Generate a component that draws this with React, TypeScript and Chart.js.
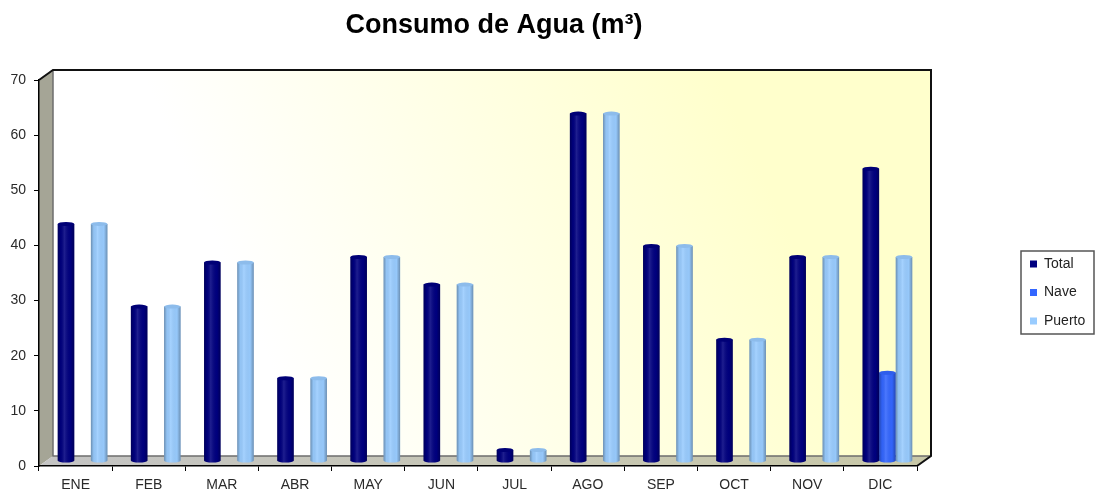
import React, { useEffect, useRef } from "react";
import { Chart, registerables } from "chart.js";

Chart.register(...registerables);

const categories = ["ENE", "FEB", "MAR", "ABR", "MAY", "JUN", "JUL", "AGO", "SEP", "OCT", "NOV", "DIC"];
const total = [43, 28, 36, 15, 37, 32, 2, 63, 39, 22, 37, 53];
const nave = [0, 0, 0, 0, 0, 0, 0, 0, 0, 0, 0, 16];
const puerto = [43, 28, 36, 15, 37, 32, 2, 63, 39, 22, 37, 37];
const seriesNames = ["Total", "Nave", "Puerto"];
const seriesColors = ["#000080", "#3366FF", "#99CCFF"];
const FONT = "'Liberation Sans', Arial, sans-serif";
const DEPTH_X = 14;
const DEPTH_Y = 10;

const frame3d = {
  id: "frame3d",
  beforeDraw(chart: any) {
    const { ctx, chartArea: a } = chart;
    const { left: l, right: r, top: t, bottom: b } = a;
    const dx = DEPTH_X;
    const dy = DEPTH_Y;
    ctx.save();
    const wall = ctx.createLinearGradient(l + dx, b, r + dx, t);
    wall.addColorStop(0, "#FFFFFF");
    wall.addColorStop(0.25, "#FFFFFF");
    wall.addColorStop(0.8, "#FFFFCC");
    wall.addColorStop(1, "#FFFFCC");
    ctx.fillStyle = wall;
    ctx.fillRect(l + dx, t - dy, r - l, b - t);

    ctx.fillStyle = "#A5A596";
    ctx.beginPath();
    ctx.moveTo(l, t);
    ctx.lineTo(l + dx, t - dy);
    ctx.lineTo(l + dx, b - dy);
    ctx.lineTo(l, b);
    ctx.closePath();
    ctx.fill();

    const floor = ctx.createLinearGradient(l, 0, r, 0);
    floor.addColorStop(0, "#C4C4C4");
    floor.addColorStop(1, "#C8C8A8");
    ctx.fillStyle = floor;
    ctx.beginPath();
    ctx.moveTo(l, b);
    ctx.lineTo(l + dx, b - dy);
    ctx.lineTo(r + dx, b - dy);
    ctx.lineTo(r, b);
    ctx.closePath();
    ctx.fill();

    ctx.strokeStyle = "#6E6E6E";
    ctx.lineWidth = 1.5;
    ctx.beginPath();
    ctx.moveTo(l + dx, t - dy);
    ctx.lineTo(l + dx, b - dy);
    ctx.lineTo(r + dx, b - dy);
    ctx.stroke();

    ctx.strokeStyle = "#111111";
    ctx.lineWidth = 2;
    ctx.beginPath();
    ctx.moveTo(l, t);
    ctx.lineTo(l + dx, t - dy);
    ctx.lineTo(r + dx, t - dy);
    ctx.lineTo(r + dx, b - dy);
    ctx.lineTo(r, b);
    ctx.stroke();
    ctx.restore();

    const legend = chart.legend;
    if (legend) {
      legend.left = 1015.5;
      legend.right = 1096;
      legend.top = 242.5;
      legend.bottom = 495;
      ctx.save();
      ctx.strokeStyle = "#555555";
      ctx.lineWidth = 1.5;
      ctx.strokeRect(1021, 251, 73, 83);
      ctx.restore();
    }
    const title = chart.titleBlock;
    if (title) {
      title.left = 0;
      title.right = 988;
      title.width = 988;
    }
  },
  beforeDatasetsDraw(chart: any) {
    chart.ctx.save();
    chart.ctx.translate(DEPTH_X / 2, -DEPTH_Y / 2);
  },
  afterDatasetDraw(chart: any, args: any) {
    const { ctx } = chart;
    const color = seriesColors[args.index];
    const values = chart.data.datasets[args.index].data;
    args.meta.data.forEach((bar: any, i: number) => {
      if (!values[i]) return;
      const x0 = bar.x - bar.width / 2;
      const x1 = bar.x + bar.width / 2;
      const rx = bar.width / 2;
      const ry = 2;
      const base = bar.base;
      ctx.save();
      ctx.fillStyle = color;
      ctx.beginPath();
      ctx.ellipse(bar.x, base, rx, ry, 0, 0, Math.PI * 2);
      ctx.fill();
      const shade = ctx.createLinearGradient(x0, 0, x1, 0);
      shade.addColorStop(0, "rgba(0,0,0,0.3)");
      shade.addColorStop(0.18, "rgba(0,0,0,0.04)");
      shade.addColorStop(0.4, "rgba(255,255,255,0.12)");
      shade.addColorStop(0.78, "rgba(0,0,0,0.02)");
      shade.addColorStop(1, "rgba(0,0,0,0.3)");
      ctx.fillStyle = shade;
      ctx.beginPath();
      ctx.moveTo(x0, bar.y);
      ctx.lineTo(x1, bar.y);
      ctx.lineTo(x1, base);
      ctx.ellipse(bar.x, base, rx, ry, 0, 0, Math.PI);
      ctx.closePath();
      ctx.fill();
      ctx.fillStyle = color;
      ctx.beginPath();
      ctx.ellipse(bar.x, bar.y, rx, ry, 0, 0, Math.PI * 2);
      ctx.fill();
      ctx.fillStyle = "rgba(0,0,0,0.08)";
      ctx.fill();
      ctx.restore();
    });
  },
  afterDatasetsDraw(chart: any) {
    chart.ctx.restore();
  },
};

export default function App() {
  const ref = useRef<HTMLCanvasElement>(null);
  useEffect(() => {
    if (!ref.current) return;
    const chart = new Chart(ref.current, {
      type: "bar",
      data: {
        labels: categories,
        datasets: [total, nave, puerto].map((data, i) => ({
          label: seriesNames[i],
          data,
          backgroundColor: seriesColors[i],
          borderWidth: 0,
          categoryPercentage: 0.68,
          barPercentage: 1,
        })),
      },
      options: {
        animation: false,
        responsive: false,
        layout: { padding: { top: 0, right: 106, bottom: 0, left: 0 } },
        plugins: {
          tooltip: { enabled: false },
          title: {
            display: true,
            text: "Consumo de Agua (m³)",
            color: "#000000",
            font: { family: FONT, size: 27, weight: "bold" },
            padding: { top: 9, bottom: 38.6 },
          },
          legend: {
            display: true,
            position: "right",
            align: "start",
            maxWidth: 73,
            labels: {
              color: "#222222",
              font: { family: FONT, size: 14 },
              boxWidth: 7,
              boxHeight: 7,
              padding: 14.5,
            },
          },
        },
        scales: {
          x: {
            afterFit: (s: any) => {
              s.height = 29;
            },
            grid: { drawOnChartArea: false, drawTicks: true, tickLength: 5, color: "#000000" },
            border: { color: "#000000", width: 1.5 },
            ticks: { color: "#2a2a2a", font: { family: FONT, size: 14 }, padding: 6, maxRotation: 0 },
          },
          y: {
            min: 0,
            max: 70,
            afterFit: (s: any) => {
              s.width = 39;
            },
            grid: { drawOnChartArea: false, drawTicks: true, tickLength: 5, color: "#000000" },
            border: { color: "#000000", width: 1.5 },
            ticks: { stepSize: 10, color: "#2a2a2a", font: { family: FONT, size: 14 }, padding: 8 },
          },
        },
      },
      plugins: [frame3d],
    } as any);
    return () => chart.destroy();
  }, []);
  return (
    <div style={{ position: "fixed", left: 0, top: 0, width: 1096, height: 495, background: "#fff" }}>
      <canvas ref={ref} width={1096} height={495} style={{ display: "block" }} />
    </div>
  );
}
